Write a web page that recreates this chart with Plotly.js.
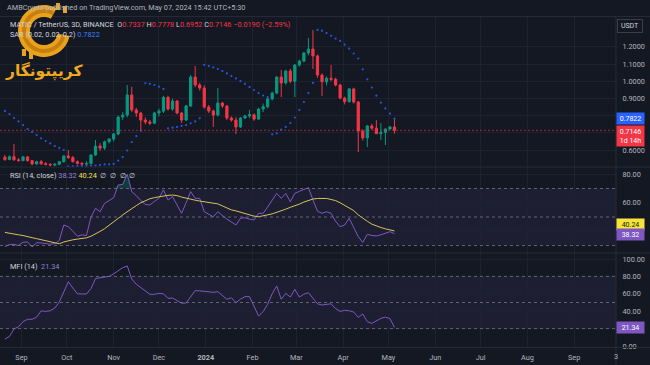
<!DOCTYPE html>
<html><head><meta charset="utf-8">
<script src="https://cdn.plot.ly/plotly-3.0.1.min.js"></script>
<style>html,body{margin:0;padding:0;background:#141823;}#c{width:650px;height:365px;}</style>
</head><body><div id="c"></div>
<script>
// ---- data (MATIC/USDT, 3D candles, first candle 2023-08-21) ----
const firstCandle = '2023-08-21';
const candleDays = 3;
const open  = [0.558,0.545,0.561,0.543,0.538,0.560,0.538,0.519,0.532,0.520,0.516,0.513,0.517,0.532,0.565,0.557,0.532,0.522,0.518,0.521,
  0.571,0.623,0.611,0.648,0.664,0.693,0.792,0.803,0.920,0.833,0.815,0.774,0.763,0.756,0.815,0.826,0.906,0.838,0.885,0.815,
  0.774,0.856,1.024,0.978,0.960,0.850,0.827,0.803,0.873,0.856,0.786,0.774,0.734,0.786,0.798,0.805,0.780,0.838,0.852,0.897,
  0.931,1.024,0.990,1.059,1.000,1.094,1.117,1.164,1.187,1.147,1.036,0.997,1.017,1.011,0.978,0.902,0.881,0.955,0.879,0.710,
  0.670,0.740,0.727,0.695,0.703,0.722,0.7337];
const high  = [0.571,0.568,0.635,0.553,0.566,0.564,0.543,0.538,0.542,0.530,0.524,0.522,0.537,0.570,0.600,0.565,0.540,0.530,0.535,0.575,
  0.658,0.640,0.655,0.670,0.700,0.800,0.820,0.978,0.968,0.845,0.822,0.790,0.775,0.822,0.840,0.915,0.915,0.900,0.890,0.822,
  0.862,1.036,1.088,0.990,0.975,0.862,0.835,0.960,0.880,0.862,0.795,0.790,0.792,0.805,0.833,0.812,0.845,0.870,0.905,0.940,
  1.030,1.065,1.066,1.072,1.100,1.125,1.170,1.251,1.298,1.155,1.045,1.028,1.094,1.020,0.985,0.910,0.960,0.962,0.885,0.720,
  0.745,0.752,0.774,0.757,0.725,0.740,0.7778];
const low   = [0.536,0.540,0.537,0.533,0.535,0.533,0.512,0.514,0.514,0.511,0.507,0.505,0.512,0.527,0.548,0.527,0.515,0.510,0.512,0.515,
  0.565,0.595,0.600,0.638,0.650,0.685,0.775,0.790,0.820,0.792,0.716,0.750,0.745,0.750,0.795,0.815,0.830,0.828,0.808,0.757,
  0.770,0.850,0.965,0.945,0.840,0.815,0.734,0.795,0.845,0.775,0.765,0.693,0.728,0.780,0.785,0.770,0.775,0.820,0.842,0.888,
  0.925,0.908,0.980,0.990,0.908,1.085,1.110,1.150,1.071,1.020,0.914,0.975,1.000,0.970,0.895,0.865,0.875,0.870,0.588,0.655,
  0.617,0.718,0.695,0.658,0.629,0.715,0.6952];
const close = [0.545,0.561,0.543,0.538,0.560,0.538,0.519,0.532,0.520,0.516,0.513,0.517,0.532,0.565,0.557,0.532,0.522,0.518,0.521,0.571,
  0.623,0.611,0.648,0.664,0.693,0.792,0.803,0.920,0.833,0.815,0.774,0.763,0.756,0.815,0.826,0.906,0.838,0.885,0.815,0.774,
  0.856,1.024,0.978,0.960,0.850,0.827,0.803,0.873,0.856,0.786,0.774,0.734,0.786,0.798,0.805,0.780,0.838,0.852,0.897,0.931,
  1.024,0.990,1.059,1.000,1.094,1.117,1.164,1.187,1.147,1.036,0.997,1.017,1.011,0.978,0.902,0.881,0.955,0.879,0.710,0.670,
  0.740,0.727,0.695,0.703,0.722,0.7336,0.7146];
const sar   = [0.827,0.809,0.786,0.766,0.745,0.722,0.705,0.687,0.668,0.652,0.638,0.623,0.612,0.600,0.505,0.505,0.506,0.506,0.507,0.508,
  0.510,0.513,0.516,0.517,0.519,0.538,0.559,0.597,0.646,0.681,0.712,0.988,0.984,0.978,0.968,0.955,0.726,0.730,0.734,0.740,
  0.745,0.755,0.766,0.784,1.095,1.088,1.081,1.071,1.059,1.045,1.030,1.016,1.001,0.984,0.966,0.949,0.931,0.917,0.908,0.691,
  0.697,0.719,0.734,0.757,0.789,0.833,0.879,0.931,0.990,1.298,1.294,1.280,1.264,1.248,1.234,1.213,1.190,1.161,1.132,1.069,
  1.011,0.963,0.916,0.875,0.842,0.812,0.7822];
const rsi   = [29.2,30.7,30.8,30.0,32.3,32.5,29.0,32.0,31.8,31.4,30.9,31.3,33.5,44.4,43.2,40.0,36.5,37.5,37.0,50.0,
  56.1,53.7,59.6,61.5,63.5,72.5,72.9,80.0,67.8,65.0,61.5,58.8,58.4,61.0,63.1,69.0,61.9,64.3,58.0,52.6,
  60.0,67.8,63.1,63.1,53.7,52.0,50.2,53.7,51.0,48.5,46.5,44.4,49.1,49.5,48.5,47.9,52.6,52.6,57.0,62.0,
  66.6,63.1,66.6,60.7,66.6,68.0,69.5,70.6,62.0,54.0,52.6,53.7,52.6,47.0,43.2,44.4,49.1,43.2,36.2,32.2,
  37.8,37.0,36.7,37.5,38.5,39.7,38.32];
const rsiMa = [39.2,38.8,38.2,37.5,37.0,36.5,35.5,34.8,34.0,33.5,32.8,31.8,31.2,32.5,33.5,34.0,34.5,35.0,35.4,36.5,
  38.5,39.9,41.8,44.0,46.5,49.0,51.5,53.8,56.0,58.0,60.0,61.7,62.8,63.6,64.2,64.8,65.2,65.4,65.0,64.0,
  63.1,62.5,61.8,61.2,60.7,60.2,59.8,59.2,57.8,56.3,55.0,54.3,53.4,52.3,51.3,50.6,50.2,50.6,51.5,52.2,
  53.2,54.3,55.5,56.8,57.8,59.0,60.5,61.8,62.6,63.0,63.1,63.0,62.3,61.5,60.0,58.3,56.5,54.5,51.5,49.0,
  47.0,45.0,43.6,42.6,41.7,40.8,40.24];
const mfi   = [8.0,11.0,19.5,22.2,28.0,30.7,30.7,33.0,40.4,39.8,40.5,43.5,50.5,62.0,73.9,66.5,60.0,59.8,59.8,66.0,
  77.5,78.5,79.2,80.0,83.0,87.0,90.0,92.0,77.0,71.0,67.0,63.0,59.4,59.4,60.5,60.0,54.8,55.2,52.0,49.2,
  49.4,56.0,63.6,63.4,63.0,62.2,61.7,62.5,58.0,53.7,55.5,49.8,53.8,56.7,56.7,45.0,34.5,39.5,48.0,60.0,
  69.0,53.7,60.5,56.3,65.1,56.3,59.5,61.3,54.8,48.5,47.1,48.0,48.5,43.0,39.8,41.0,40.5,39.0,33.0,36.8,
  28.0,26.0,29.1,31.8,33.2,31.5,21.34];
const monthTicks = ['2023-09-01','2023-10-01','2023-11-01','2023-12-01','2024-01-01','2024-02-01','2024-03-01','2024-04-01','2024-05-01','2024-06-01','2024-07-01','2024-08-01','2024-09-01'];
const monthLabels = ['Sep','Oct','Nov','Dec','<b>2024</b>','Feb','Mar','Apr','May','Jun','Jul','Aug','Sep'];
const priceTicks = [0.6,0.7,0.8,0.9,1.0,1.1,1.2];
const priceLabels = ['0.6000','','','0.9000','1.0000','1.1000','1.2000'];
const rsiTicks = [40,60,80];
const rsiLabels = ['','60.00','80.00'];
const mfiTicks = [0,20,40,60,80,100];
const mfiLabels = ['0.00','','40.00','60.00','80.00','100.00'];
const pair = 'MATIC / TetherUS, 3D, BINANCE';
const header = 'AMBCrypto published on TradingView.com, May 07, 2024 15:42 UTC+5:30';
const countdown = '1d 14h';
const watermark = 'کریپتونگار';

// ---- build ----
const t0 = Date.parse(firstCandle + 'T00:00:00Z');
const dates = open.map((_, i) => new Date(t0 + i * candleDays * 86400000).toISOString().slice(0, 10));
const n = close.length - 1;
const chg = close[n] - close[n - 1];
const chgPct = chg / close[n - 1] * 100;
const sgn = v => (v < 0 ? '\u2212' : '+');

const BG = '#141823', GRID = '#1d2130', TXT = '#b2b5be', RED = '#f23645', GREEN = '#089981', PURPLE = '#7e57c2';
const FONT = 'Roboto, "Liberation Sans", sans-serif';
const FS = 7.3;
const PW = 616, PT = 17, PB = 347;
const P = px => px / PW;
const Q = py => (PB - py) / (PB - PT);

const traces = [
  {type: 'candlestick', x: dates, open, high, low, close, xaxis: 'x', yaxis: 'y',
   increasing: {line: {color: GREEN, width: 1}, fillcolor: GREEN},
   decreasing: {line: {color: RED, width: 1}, fillcolor: RED},
   whiskerwidth: 0, hoverinfo: 'skip'},
  {type: 'scatter', mode: 'markers', x: dates, y: sar, xaxis: 'x', yaxis: 'y',
   marker: {color: '#2962ff', size: 2.2, opacity: 0.85}, hoverinfo: 'skip'},
  {type: 'scatter', mode: 'lines', x: dates, y: rsi.map(() => 70), xaxis: 'x', yaxis: 'y2', line: {width: 0}, hoverinfo: 'skip'},
  {type: 'scatter', mode: 'lines', x: dates, y: rsi.map(v => Math.max(v, 70)), xaxis: 'x', yaxis: 'y2',
   line: {width: 0}, fill: 'tonexty', fillcolor: 'rgba(8,153,129,0.28)', hoverinfo: 'skip'},
  {type: 'scatter', mode: 'lines', x: dates, y: rsi.map(() => 30), xaxis: 'x', yaxis: 'y2', line: {width: 0}, hoverinfo: 'skip'},
  {type: 'scatter', mode: 'lines', x: dates, y: rsi.map(v => Math.min(v, 30)), xaxis: 'x', yaxis: 'y2',
   line: {width: 0}, fill: 'tonexty', fillcolor: 'rgba(242,54,69,0.22)', hoverinfo: 'skip'},
  {type: 'scatter', mode: 'lines', x: dates, y: rsi, xaxis: 'x', yaxis: 'y2', line: {color: PURPLE, width: 1}, hoverinfo: 'skip'},
  {type: 'scatter', mode: 'lines', x: dates, y: rsiMa, xaxis: 'x', yaxis: 'y2', line: {color: '#d6c45c', width: 1}, hoverinfo: 'skip'},
  {type: 'scatter', mode: 'lines', x: dates, y: mfi, xaxis: 'x', yaxis: 'y3', line: {color: PURPLE, width: 1}, hoverinfo: 'skip'}
];

const yCommon = {side: 'right', anchor: 'x', showgrid: true, gridcolor: GRID, gridwidth: 1, zeroline: false, showline: false,
  ticks: 'outside', ticklen: 4, tickcolor: 'rgba(0,0,0,0)', tickfont: {size: FS, color: TXT, family: FONT}, fixedrange: true};

const band = (yref, a, b) => ({type: 'rect', xref: 'paper', yref, x0: 0, x1: 1, y0: a, y1: b,
  fillcolor: 'rgba(126,87,194,0.10)', line: {width: 0}, layer: 'below'});
const dash = (yref, v) => ({type: 'line', xref: 'paper', yref, x0: 0, x1: 1, y0: v, y1: v,
  line: {color: 'rgba(120,123,134,0.75)', width: 1, dash: '3px,3px'}});
const sep = py => ({type: 'line', xref: 'paper', yref: 'paper', x0: 0, x1: 650 / PW, y0: Q(py), y1: Q(py),
  line: {color: '#262a36', width: 1}});

// watermark logo: thick gold "C" ring
const logoPath = (cx, cy, R, r, gapMid, gapHalf) => {
  const a0 = gapMid + gapHalf, a1 = gapMid + 360 - gapHalf, pts = [];
  for (let a = a0; a <= a1 + 0.01; a += 6) pts.push([cx + R * Math.cos(a * Math.PI / 180), cy + R * Math.sin(a * Math.PI / 180)]);
  for (let a = a1; a >= a0 - 0.01; a -= 6) pts.push([cx + r * Math.cos(a * Math.PI / 180), cy + r * Math.sin(a * Math.PI / 180)]);
  return 'M' + pts.map(p => P(p[0]).toFixed(5) + ',' + Q(p[1]).toFixed(5)).join(' L') + ' Z';
};
const logoBar = (x0, y0, x1, y1) => ({type: 'rect', xref: 'paper', yref: 'paper', x0: P(x0), x1: P(x1), y0: Q(y0), y1: Q(y1),
  fillcolor: '#e9a21b', line: {width: 0}});

const shapes = [
  band('y2', 30, 70), dash('y2', 70), dash('y2', 50), dash('y2', 30),
  band('y3', 20, 80), dash('y3', 80), dash('y3', 50), dash('y3', 20),
  {type: 'line', xref: 'paper', yref: 'y', x0: 0, x1: 1, y0: close[n], y1: close[n],
   line: {color: 'rgba(242,54,69,0.6)', width: 1, dash: '2px,2px'}},
  sep(16.5), sep(167), sep(253), sep(347.5),
  {type: 'line', xref: 'paper', yref: 'paper', x0: 1, x1: 1, y0: Q(16.5), y1: Q(365), line: {color: '#262a36', width: 1}},
  {type: 'path', xref: 'paper', yref: 'paper', path: logoPath(44, 31, 26, 14, -25, 36), fillcolor: '#e9a21b', line: {width: 0}},
  {type: 'path', xref: 'paper', yref: 'paper', path: logoPath(44, 31, 22, 18, -25, 36), fillcolor: '#c97f10', line: {width: 0}},
  logoBar(56, 3, 60, 10), logoBar(63, 6, 67, 13),
  logoBar(22, 49, 26, 56), logoBar(29, 52, 33, 59)
];

const txt = (x, y, text, opts = {}) => Object.assign({xref: 'paper', yref: 'paper', x: P(x), y: Q(y), text,
  showarrow: false, xanchor: 'left', yanchor: 'middle', font: {size: FS, color: TXT, family: FONT}}, opts);
const tag = (yref, y, text, bg, fg, extra = {}) => Object.assign({xref: 'paper', yref, x: P(630), y, text,
  showarrow: false, xanchor: 'center', yanchor: 'middle', bgcolor: bg, borderpad: 1.5, width: 24,
  font: {size: 7, color: fg, family: FONT}}, extra);

const R = s => '<span style="color:' + RED + '">' + s + '</span>';
const legend1 = pair + '  O' + R(open[n].toFixed(4)) + ' H' + R(high[n].toFixed(4)) + ' L' + R(low[n].toFixed(4)) +
  ' C' + R(close[n].toFixed(4)) + ' ' + R(sgn(chg) + Math.abs(chg).toFixed(4) + ' (' + sgn(chgPct) + Math.abs(chgPct).toFixed(2) + '%)');
const LT = {size: FS, color: '#d1d4dc', family: FONT};
const sp = '\u00a0\u00a0';

const annotations = [
  txt(5, 8, header),
  txt(8, 24, legend1, {font: LT}),
  txt(8, 34, 'SAR (0.02, 0.02, 0.2) <span style="color:#3d7bf5">' + sar[n].toFixed(4) + '</span>', {font: LT}),
  txt(8, 175, 'RSI (14, close) <span style="color:#9a7fd6">' + rsi[n].toFixed(2) + '</span> <span style="color:#f0e04a">' + rsiMa[n].toFixed(2) + '</span>' + sp + '\u2205' + sp + '\u2205' + sp + '\u2205' + sp + '\u2205', {font: LT}),
  txt(8, 266, 'MFI (14)' + sp + '<span style="color:#9a7fd6">' + mfi[n].toFixed(2) + '</span>', {font: LT}),
  txt(612, 356, '3'),
  tag('paper', Q(26), 'USDT', BG, '#d1d4dc', {bordercolor: '#3a3e4a', borderwidth: 1, borderpad: 2, width: 20}),
  tag('y', sar[n], sar[n].toFixed(4), '#2962ff', '#ffffff'),
  tag('y', close[n], close[n].toFixed(4) + '<br>' + countdown, RED, '#ffffff', {yanchor: 'top', yshift: 5}),
  tag('y2', rsiMa[n], rsiMa[n].toFixed(2), '#f5e53a', '#131722', {yshift: 6}),
  tag('y2', rsi[n], rsi[n].toFixed(2), PURPLE, '#ffffff', {yshift: -1}),
  tag('y3', mfi[n], mfi[n].toFixed(2), PURPLE, '#ffffff'),
  txt(44, 71, '<b>' + watermark + '</b>', {xanchor: 'center', font: {size: 15.5, color: '#f0a81d', family: '"DejaVu Sans", sans-serif'}})
];

const layout = {
  width: 650, height: 365, margin: {l: 0, r: 650 - PW, t: PT, b: 365 - PB},
  paper_bgcolor: BG, plot_bgcolor: BG, showlegend: false, hovermode: false, dragmode: false,
  font: {family: FONT, color: TXT, size: FS},
  xaxis: {type: 'date', anchor: 'y3', range: ['2023-08-17 17:46', '2024-09-28 16:48'],
    tickvals: monthTicks, ticktext: monthLabels, showgrid: true, gridcolor: GRID, zeroline: false, showline: false,
    ticks: 'outside', ticklen: 3, tickcolor: 'rgba(0,0,0,0)', tickfont: {size: FS, color: TXT, family: FONT},
    rangeslider: {visible: false}, fixedrange: true},
  yaxis: Object.assign({}, yCommon, {domain: [Q(167), 1], range: [0.5012, 1.3733], tickvals: priceTicks, ticktext: priceLabels}),
  yaxis2: Object.assign({}, yCommon, {domain: [Q(253), Q(167)], range: [24.74, 85.09], tickvals: rsiTicks, ticktext: rsiLabels}),
  yaxis3: Object.assign({}, yCommon, {domain: [0, Q(253)], range: [-1.15, 106.9], tickvals: mfiTicks, ticktext: mfiLabels}),
  shapes, annotations
};

Plotly.newPlot('c', traces, layout, {staticPlot: true, displayModeBar: false});
</script></body></html>
